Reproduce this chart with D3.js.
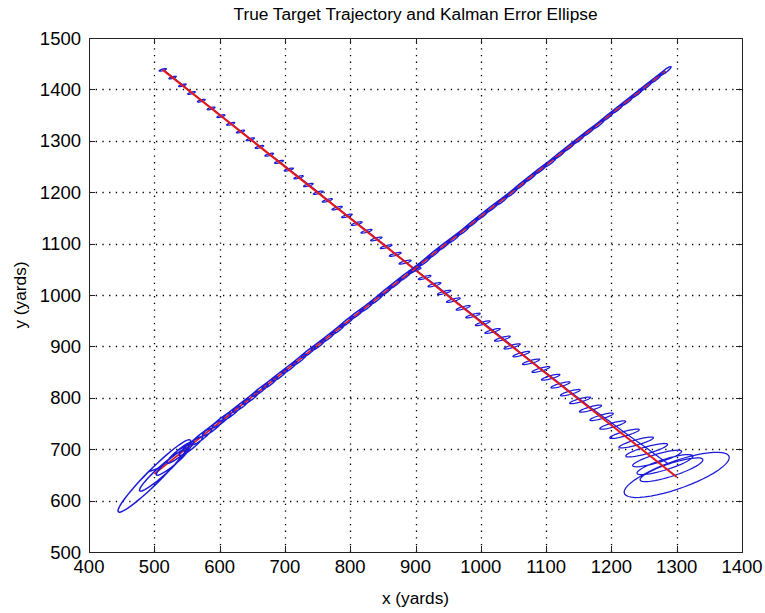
<!DOCTYPE html>
<html>
<head>
<meta charset="utf-8">
<script src="https://cdn.jsdelivr.net/npm/d3@7"></script>
<style>
  html, body { margin: 0; padding: 0; background: #fff; }
  svg { display: block; }
  text { font-family: "Liberation Sans", Arial, Helvetica, sans-serif; fill: #000; }
</style>
</head>
<body>
<svg id="chart" width="765" height="613"></svg>
<script>
// Axis ticks
const xTicks = [400, 500, 600, 700, 800, 900, 1000, 1100, 1200, 1300, 1400];
const yTicks = [500, 600, 700, 800, 900, 1000, 1100, 1200, 1300, 1400, 1500];

// True trajectories (start and end points, yards)
const trueAX = [1300, 513];
const trueAY = [646, 1438];
const trueBX = [500, 1283];
const trueBY = [652, 1436];

// Target A: filter estimates and error ellipse parameters at each step
const estAX = [1300, 1292, 1282, 1270, 1254, 1238, 1220, 1202, 1185, 1168, 1152, 1137, 1122, 1107, 1092, 1077, 1062, 1048,
  1033, 1018, 1003, 988, 973, 958, 944, 929, 914, 899, 884, 869, 855, 840, 825, 810, 795, 780, 765, 751, 736, 721, 706,
  691, 676, 661, 647, 632, 617, 602, 587, 572, 557, 543, 528, 513];
const estAY = [650, 660, 670, 682, 698, 713, 730, 747, 763, 779, 795, 810, 825, 840, 855, 870, 885, 900,
  915, 930, 945, 960, 975, 990, 1005, 1020, 1034, 1049, 1064, 1079, 1094, 1109, 1124, 1139, 1154, 1169, 1184, 1199, 1214, 1229, 1244,
  1259, 1273, 1288, 1303, 1318, 1333, 1348, 1363, 1378, 1393, 1408, 1423, 1438];
const ellAMajor = [88, 52, 46, 40, 34, 28, 24, 21, 19, 18, 17, 16, 15.5, 15, 14.5, 14, 13.6, 13.2,
  12.8, 12.4, 12, 11.7, 11.4, 11.1, 10.8, 10.5, 10.2, 10, 9.8, 9.6, 9.4, 9.2, 9, 8.8, 8.6, 8.4, 8.2, 8, 7.8, 7.6, 7.4,
  7.2, 7, 6.9, 6.8, 6.7, 6.6, 6.5, 6.4, 6.3, 6.2, 6.1, 6, 5.9];
const ellAMinor = [26, 12, 10, 8, 6.5, 5, 4.4, 4, 3.6, 3.4, 3.2, 3.1, 3, 2.9, 2.8, 2.7, 2.6, 2.5,
  2.5, 2.4, 2.4, 2.3, 2.3, 2.2, 2.2, 2.2, 2.1, 2.1, 2.1, 2.1, 2, 2, 2, 2, 1.9, 1.9, 1.9, 1.9, 1.9, 1.8, 1.8,
  1.8, 1.8, 1.8, 1.7, 1.7, 1.7, 1.7, 1.7, 1.7, 1.6, 1.6, 1.6, 1.6];
const ellATilt = [25, 23, 22, 21, 20, 20, 20, 20, 20, 20, 20, 20, 20, 20, 20, 20, 20, 20,
  20, 20, 20, 20, 20, 20, 20, 20, 20, 20, 20, 20, 20, 20, 20, 20, 20, 20, 20, 20, 20, 20, 20,
  20, 20, 20, 20, 20, 20, 20, 20, 20, 20, 20, 20, 20];

// Target B: filter estimates and error ellipse parameters at each step
const estBX = [500, 512, 528, 540, 556, 572, 589, 603, 618, 633, 648, 662, 677, 692, 707, 722, 736, 751,
  766, 781, 795, 810, 825, 840, 854, 869, 884, 899, 914, 928, 943, 958, 973, 987, 1002, 1017, 1032, 1047, 1061, 1076, 1091,
  1106, 1120, 1135, 1150, 1165, 1180, 1194, 1209, 1224, 1239, 1253, 1268, 1283];
const estBY = [648, 658, 676, 694, 706, 724, 741, 756, 770, 785, 800, 815, 829, 844, 859, 874, 889, 903,
  918, 933, 948, 963, 977, 992, 1007, 1022, 1037, 1051, 1066, 1081, 1096, 1110, 1125, 1140, 1155, 1170, 1184, 1199, 1214, 1229, 1244,
  1258, 1273, 1288, 1303, 1318, 1332, 1347, 1362, 1377, 1392, 1406, 1421, 1436];
const ellBMajor = [89, 52, 36, 29, 25, 22, 20.5, 19.5, 18.5, 17.8, 17.2, 16.6, 16.1, 15.7, 15.3, 15, 14.7, 14.5,
  14.3, 14.1, 13.9, 13.8, 13.7, 13.6, 13.5, 13.4, 13.3, 13.2, 13.1, 13, 12.9, 12.8, 12.7, 12.6, 12.5, 12.4, 12.3, 12.3, 12.2, 12.2, 12.1,
  12.1, 12, 12, 11.9, 11.9, 11.8, 11.8, 11.7, 11.7, 11.6, 11.6, 11.5, 11.5];
const ellBMinor = [12, 8, 6.5, 5.5, 5, 4.6, 4.3, 4, 3.8, 3.7, 3.6, 3.5, 3.4, 3.4, 3.3, 3.3, 3.2, 3.2,
  3.1, 3.1, 3.1, 3, 3, 3, 2.9, 2.9, 2.9, 2.9, 2.8, 2.8, 2.8, 2.8, 2.7, 2.7, 2.7, 2.7, 2.7, 2.6, 2.6, 2.6, 2.6,
  2.6, 2.6, 2.5, 2.5, 2.5, 2.5, 2.5, 2.5, 2.5, 2.4, 2.4, 2.4, 2.4];
const ellBTilt = [52, 49, 47, 46, 46, 45, 45, 45, 45, 45, 45, 45, 45, 45, 45, 45, 45, 45,
  45, 45, 45, 45, 45, 45, 45, 45, 45, 45, 45, 45, 45, 45, 45, 45, 45, 45, 45, 45, 45, 45, 45,
  45, 45, 45, 45, 45, 45, 45, 45, 45, 45, 45, 45, 45];

const svg = d3.select("#chart");
const plot = { left: 89, right: 742, top: 38, bottom: 552 };

const x = d3.scaleLinear().domain([400, 1400]).range([plot.left, plot.right]);
const y = d3.scaleLinear().domain([500, 1500]).range([plot.bottom, plot.top]);

svg.append("rect").attr("width", 765).attr("height", 613).attr("fill", "#fff");

// Dotted grid
const grid = svg.append("g").attr("stroke", "#000").attr("stroke-width", 1.3)
  .attr("stroke-dasharray", "1.3,5.4").attr("fill", "none");
grid.selectAll(".gx").data(xTicks.slice(1, -1)).join("line")
  .attr("x1", d => Math.round(x(d)) + 0.5).attr("x2", d => Math.round(x(d)) + 0.5)
  .attr("y1", plot.bottom).attr("y2", plot.top);
grid.selectAll(".gy").data(yTicks.slice(1, -1)).join("line")
  .attr("y1", d => Math.round(y(d)) + 0.5).attr("y2", d => Math.round(y(d)) + 0.5)
  .attr("x1", plot.left).attr("x2", plot.right);

svg.append("clipPath").attr("id", "clip").append("rect")
  .attr("x", plot.left).attr("y", plot.top)
  .attr("width", plot.right - plot.left).attr("height", plot.bottom - plot.top);

// One continuous polyline through all of a track's error ellipses;
// each ellipse starts and ends at the tip of its minor axis
function ellipseTrack(cx, cy, major, minor, tilt) {
  const pts = [];
  const n = Math.min(cx.length, cy.length, major.length, minor.length, tilt.length);
  const seg = 48;
  for (let k = 0; k < n; k++) {
    const th = tilt[k] * Math.PI / 180;
    const c = Math.cos(th), s = Math.sin(th);
    for (let j = 0; j <= seg; j++) {
      const t = 2 * Math.PI * j / seg;
      const u = major[k] * Math.sin(t), v = minor[k] * Math.cos(t);
      pts.push([cx[k] + u * c - v * s, cy[k] + u * s + v * c]);
    }
  }
  return pts;
}

const line = d3.line().x(d => x(d[0])).y(d => y(d[1]));
const marks = svg.append("g").attr("clip-path", "url(#clip)").attr("fill", "none")
  .attr("stroke-linejoin", "round");

const blue = "#1c1cd8";
const red = "#e81616";

marks.append("path")
  .attr("d", line(ellipseTrack(estAX, estAY, ellAMajor, ellAMinor, ellATilt)))
  .attr("stroke", blue).attr("stroke-width", 1.25);

marks.append("path")
  .attr("d", line(trueAX.map((v, i) => [v, trueAY[i]])))
  .attr("stroke", red).attr("stroke-width", 2);
marks.append("path")
  .attr("d", line(trueBX.map((v, i) => [v, trueBY[i]])))
  .attr("stroke", red).attr("stroke-width", 1.8);

marks.append("path")
  .attr("d", line(ellipseTrack(estBX, estBY, ellBMajor, ellBMinor, ellBTilt)))
  .attr("stroke", blue).attr("stroke-width", 1.5);

// Axes box with inward ticks on all four sides
const axisColor = "#222";
const tickLen = 6;
const frame = svg.append("g").attr("stroke", axisColor).attr("stroke-width", 1).attr("fill", "none");
frame.append("rect")
  .attr("x", plot.left + 0.5).attr("y", plot.top + 0.5)
  .attr("width", plot.right - plot.left).attr("height", plot.bottom - plot.top);
xTicks.slice(1, -1).forEach(d => {
  const px = Math.round(x(d)) + 0.5;
  frame.append("line").attr("x1", px).attr("x2", px).attr("y1", plot.bottom).attr("y2", plot.bottom - tickLen);
  frame.append("line").attr("x1", px).attr("x2", px).attr("y1", plot.top).attr("y2", plot.top + tickLen);
});
yTicks.slice(1, -1).forEach(d => {
  const py = Math.round(y(d)) + 0.5;
  frame.append("line").attr("y1", py).attr("y2", py).attr("x1", plot.left).attr("x2", plot.left + tickLen);
  frame.append("line").attr("y1", py).attr("y2", py).attr("x1", plot.right).attr("x2", plot.right - tickLen);
});

const tickFont = 18.5;
const labelFont = 17.3;
svg.append("g").selectAll("text").data(xTicks).join("text")
  .attr("x", d => x(d)).attr("y", plot.bottom + 21)
  .attr("text-anchor", "middle").attr("font-size", tickFont)
  .text(d => d);
svg.append("g").selectAll("text").data(yTicks).join("text")
  .attr("x", plot.left - 8).attr("y", d => y(d) + 6.5)
  .attr("text-anchor", "end").attr("font-size", tickFont)
  .text(d => d);

svg.append("text").attr("x", (plot.left + plot.right) / 2).attr("y", 20)
  .attr("text-anchor", "middle").attr("font-size", labelFont)
  .text("True Target Trajectory and Kalman Error Ellipse");
svg.append("text").attr("x", (plot.left + plot.right) / 2).attr("y", 604)
  .attr("text-anchor", "middle").attr("font-size", labelFont)
  .text("x (yards)");
svg.append("text")
  .attr("transform", `translate(26,${(plot.top + plot.bottom) / 2}) rotate(-90)`)
  .attr("text-anchor", "middle").attr("font-size", labelFont)
  .text("y (yards)");
</script>
</body>
</html>
